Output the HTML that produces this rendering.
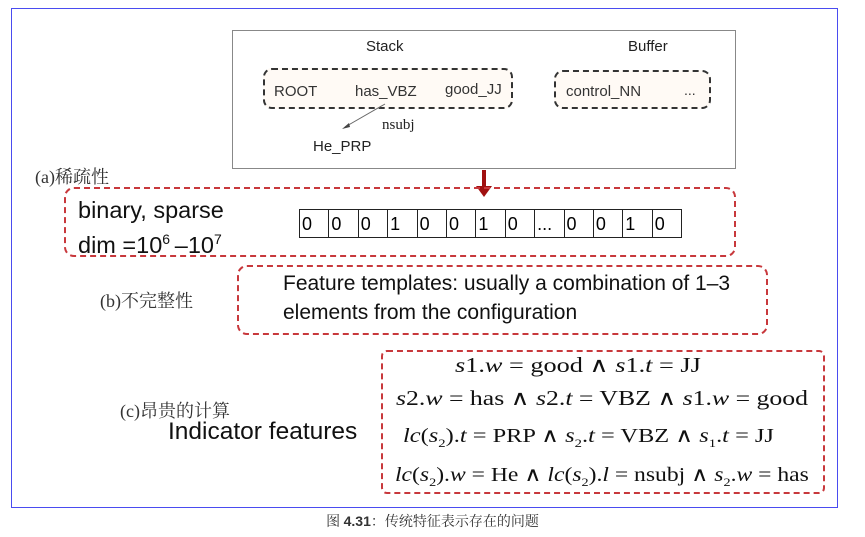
<!DOCTYPE html>
<html><head><meta charset="utf-8"><style>
body{margin:0;width:865px;height:537px;background:#fff;position:relative;overflow:hidden;font-family:"Liberation Sans","DejaVu Sans",sans-serif;}
.a{position:absolute;white-space:nowrap;}
.serif{font-family:"Liberation Serif","Noto Serif CJK SC",serif;}
.cjk{font-family:"Liberation Serif","Noto Serif CJK SC",serif;color:#333;font-size:18px;}
.rd{position:absolute;border:2px dashed #c8383c;border-radius:10px;}
.bd{position:absolute;border:2.5px dashed #333;border-radius:9px;background:#fffaf5;}
.cells{position:absolute;left:299px;top:209px;display:flex;border-left:1px solid #222;}
.cells div{width:29.4px;height:29px;border:1px solid #222;border-left:none;font-family:"Liberation Sans",sans-serif;font-size:18px;line-height:29px;padding-left:2px;box-sizing:border-box;}
.m{font-family:"Liberation Serif",serif;font-size:21px;color:#111;transform-origin:0 0;}
.m i{font-style:italic;}
</style></head><body>
<div class="a" style="left:11px;top:8px;width:825px;height:498px;border:1.5px solid #4a4cf0;"></div>
<div class="a" style="left:232px;top:30px;width:502px;height:137px;border:1.5px solid #888;"></div>
<div class="a" style="left:366px;top:38px;font-size:15px;color:#222;">Stack</div>
<div class="a" style="left:628px;top:38px;font-size:15px;color:#222;">Buffer</div>
<div class="bd" style="left:263px;top:68px;width:246px;height:37px;"></div>
<div class="bd" style="left:554px;top:70px;width:153px;height:35px;"></div>
<div class="a" style="left:274px;top:83px;font-size:15px;color:#333;">ROOT</div>
<div class="a" style="left:355px;top:83px;font-size:15px;color:#333;">has_VBZ</div>
<div class="a" style="left:445px;top:81px;font-size:15px;color:#333;">good_JJ</div>
<div class="a" style="left:566px;top:83px;font-size:15px;color:#333;">control_NN</div>
<div class="a" style="left:684px;top:82px;font-size:14px;color:#333;">...</div>
<svg class="a" style="left:0;top:0" width="865" height="537">
<line x1="385" y1="104" x2="345" y2="127" stroke="#666" stroke-width="1"/>
<polygon points="342,129 349,123 350,127" fill="#444"/>
<line x1="484" y1="170" x2="484" y2="188" stroke="#a01010" stroke-width="4"/>
<polygon points="476,186 492,186 484,197" fill="#a01010"/>
</svg>
<div class="a serif" style="left:382px;top:117px;font-size:15px;color:#222;">nsubj</div>
<div class="a" style="left:313px;top:138px;font-size:15px;color:#222;">He_PRP</div>
<div class="a cjk" style="left:35px;top:163px;">(a)稀疏性</div>
<div class="rd" style="left:64px;top:187px;width:668px;height:66px;"></div>
<div class="a" style="left:78px;top:196px;font-size:23.5px;color:#111;line-height:29px;">binary, sparse<br>dim =10<sup style="font-size:14px">6</sup>&thinsp;–10<sup style="font-size:14px">7</sup></div>
<div class="cells"><div>0</div><div>0</div><div>0</div><div>1</div><div>0</div><div>0</div><div>1</div><div>0</div><div>...</div><div>0</div><div>0</div><div>1</div><div>0</div></div>
<div class="rd" style="left:237px;top:265px;width:527px;height:66px;"></div>
<div class="a" style="left:283px;top:269px;font-size:21px;color:#111;line-height:29px;">Feature templates: usually a combination of 1–3<br>elements from the configuration</div>
<div class="a cjk" style="left:100px;top:287px;">(b)不完整性</div>
<div class="rd" style="left:381px;top:350px;width:440px;height:140px;border-radius:6px;"></div>
<div class="a cjk" style="left:120px;top:397px;">(c)昂贵的计算</div>
<div class="a" style="left:168px;top:418px;font-size:24.5px;color:#111;">Indicator features</div>
<div class="a m" style="left:455px;top:353px;transform:scaleX(1.25);"><i>s</i>1.<i>w</i> = good ∧ <i>s</i>1.<i>t</i> = JJ</div>
<div class="a m" style="left:396px;top:386px;transform:scaleX(1.226);"><i>s</i>2.<i>w</i> = has ∧ <i>s</i>2.<i>t</i> = VBZ ∧ <i>s</i>1.<i>w</i> = good</div>
<div class="a m" style="left:403px;top:423px;font-size:20px;transform:scaleX(1.22);"><i>lc</i>(<i>s</i><sub style="font-size:12px">2</sub>).<i>t</i> = PRP ∧ <i>s</i><sub style="font-size:12px">2</sub>.<i>t</i> = VBZ ∧ <i>s</i><sub style="font-size:12px">1</sub>.<i>t</i> = JJ</div>
<div class="a m" style="left:395px;top:462px;font-size:20px;transform:scaleX(1.18);"><i>lc</i>(<i>s</i><sub style="font-size:12px">2</sub>).<i>w</i> = He ∧ <i>lc</i>(<i>s</i><sub style="font-size:12px">2</sub>).<i>l</i> = nsubj ∧ <i>s</i><sub style="font-size:12px">2</sub>.<i>w</i> = has</div>
<div class="a" style="left:0;width:865px;text-align:center;top:511px;font-size:14px;color:#333;font-family:'Liberation Serif','Noto Serif CJK SC',serif;">图 <b style="font-family:'Liberation Sans',sans-serif">4.31</b>：传统特征表示存在的问题</div>
</body></html>
